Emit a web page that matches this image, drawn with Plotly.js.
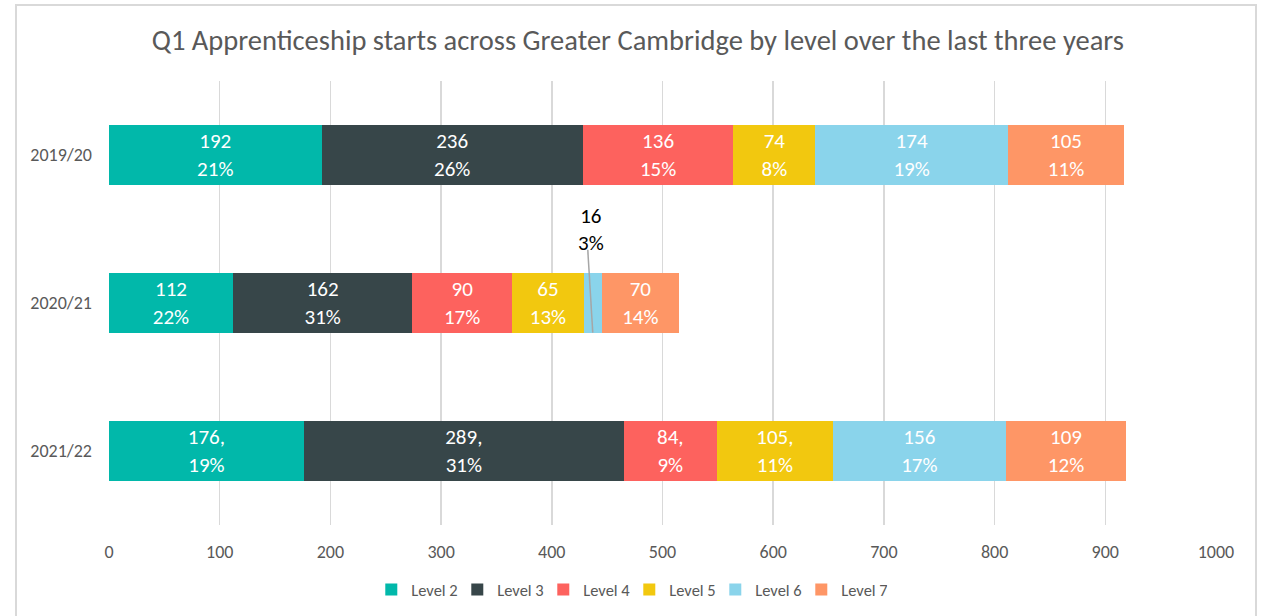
<!DOCTYPE html>
<html>
<head>
<meta charset="utf-8">
<script src="https://cdn.plot.ly/plotly-3.0.1.min.js"></script>
<style>html,body{margin:0;padding:0;background:#fff;}#chart{width:1268px;height:616px;}</style>
</head>
<body>
<div id="chart"></div>
<script>
const years = ["2019/20", "2020/21", "2021/22"];
const levels = ["Level 2", "Level 3", "Level 4", "Level 5", "Level 6", "Level 7"];
const colors = ["#01B8AA", "#374649", "#FD625E", "#F2C80F", "#8AD4EB", "#FE9666"];

const level2 = [192, 112, 176];
const level3 = [236, 162, 289];
const level4 = [136, 90, 84];
const level5 = [74, 65, 105];
const level6 = [174, 16, 156];
const level7 = [105, 70, 109];

const label2 = ["192<br>21%", "112<br>22%", "176,<br>19%"];
const label3 = ["236<br>26%", "162<br>31%", "289,<br>31%"];
const label4 = ["136<br>15%", "90<br>17%", "84,<br>9%"];
const label5 = ["74<br>8%", "65<br>13%", "105,<br>11%"];
const label6 = ["174<br>19%", "", "156<br>17%"];
const label7 = ["105<br>11%", "70<br>14%", "109<br>12%"];
const calloutLabel = "16<br>3%";

const values = [level2, level3, level4, level5, level6, level7];
const labels = [label2, label3, label4, label5, label6, label7];

const FONT = "Carlito, Calibri, Lato, sans-serif";

const traces = levels.map((name, i) => ({
  type: "bar",
  orientation: "h",
  name: name,
  y: years,
  x: values[i],
  text: labels[i],
  textposition: "inside",
  insidetextanchor: "middle",
  textangle: 0,
  constraintext: "none",
  texttemplate: "%{text}",
  textfont: {color: "#ffffff", size: 21, family: FONT},
  marker: {color: colors[i], line: {width: 0}},
  width: 0.4,
  hoverinfo: "x+name"
}));

// callout position derived from the 2020/21 Level 6 segment
const startL6 = level2[1] + level3[1] + level4[1] + level5[1];
const midL6 = startL6 + level6[1] / 2;

const layout = {
  width: 1268,
  height: 616,
  barmode: "stack",
  paper_bgcolor: "#ffffff",
  plot_bgcolor: "#ffffff",
  margin: {l: 109, r: 52, t: 81, b: 91, autoexpand: false},
  font: {family: FONT, color: "#595959"},
  title: {
    text: "Q1 Apprenticeship starts across Greater Cambridge by level over the last three years",
    font: {size: 28.5, color: "#595959", family: FONT},
    x: 0.503, xref: "container", xanchor: "center",
    y: 0.935, yref: "container", yanchor: "middle"
  },
  xaxis: {
    range: [0, 1000],
    tickvals: [0, 100, 200, 300, 400, 500, 600, 700, 800, 900, 1000],
    showgrid: true,
    gridcolor: "#D9D9D9",
    gridwidth: 1.5,
    zeroline: false,
    showline: false,
    tickfont: {size: 18, color: "#595959", family: FONT},
    ticks: "",
    ticklabelstandoff: 14,
    fixedrange: true
  },
  yaxis: {
    type: "category",
    categoryorder: "array",
    categoryarray: years,
    autorange: "reversed",
    tickfont: {size: 18, color: "#595959", family: FONT},
    ticks: "",
    ticklabelstandoff: 16,
    showgrid: false,
    zeroline: false,
    showline: false,
    fixedrange: true
  },
  legend: {
    orientation: "h",
    x: 0.47, xanchor: "center",
    y: -0.146, yanchor: "middle",
    font: {size: 16.5, color: "#595959", family: FONT},
    traceorder: "normal",
    entrywidth: 41,
    entrywidthmode: "pixels"
  },
  showlegend: true,
  annotations: [{
    x: midL6 - 2, y: 0.505, xref: "x", yref: "y",
    text: calloutLabel,
    showarrow: false,
    font: {size: 21, color: "#000000", family: FONT},
    align: "center"
  }],
  shapes: [
    {type: "line", xref: "x", yref: "y", x0: midL6 - 4.5, y0: 0.64, x1: midL6, y1: 1.2,
     line: {color: "#A6A6A6", width: 1.5}},
    {type: "rect", xref: "paper", yref: "paper",
     x0: (16 - 109) / 1107, x1: (1256 - 109) / 1107,
     y0: -0.3, y1: (525 - 5) / 444,
     line: {color: "#D9D9D9", width: 2}, fillcolor: "rgba(0,0,0,0)", layer: "below"}
  ]
};

Plotly.newPlot("chart", traces, layout, {displayModeBar: false, staticPlot: true});
</script>
</body>
</html>
